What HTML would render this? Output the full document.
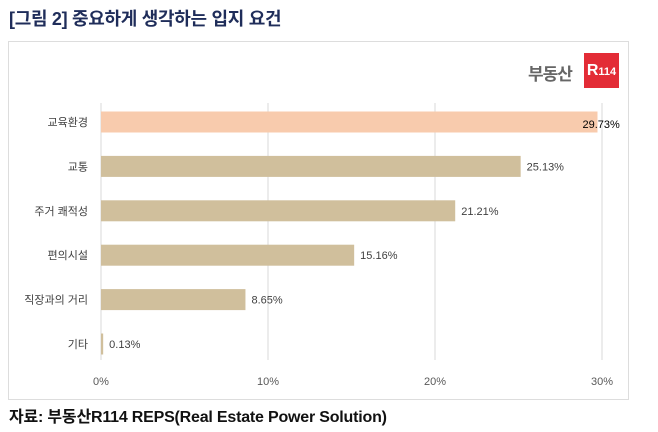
<!DOCTYPE html>
<html><head><meta charset="utf-8"><style>
body{margin:0;width:658px;height:432px;background:#fff;overflow:hidden;font-family:"Liberation Sans","Noto Sans CJK KR",sans-serif;position:relative}
.t{position:absolute;left:9px;top:5px;font-size:18px;font-weight:bold;color:#1f2d5a;letter-spacing:-0.3px}
.f{position:absolute;left:9px;top:403px;font-size:16px;font-weight:bold;color:#111;letter-spacing:-0.2px}
.box{position:absolute;left:8px;top:41px;width:621px;height:359px;border:1px solid #ddd;box-sizing:border-box}
</style></head><body>
<div class="t">[그림 2] 중요하게 생각하는 입지 요건</div>
<div class="box"></div>
<div style="position:absolute;left:528px;top:60px;font-size:17px;font-weight:bold;color:#666;letter-spacing:-1px">부동산</div>
<div style="position:absolute;left:584px;top:53px;width:35px;height:35px;background:#e32c36;color:#fff;font-weight:bold;font-size:16px;line-height:35px;text-align:center">R<span style="font-size:11px">114</span></div>
<svg id="c" width="658" height="432" style="position:absolute;left:0;top:0"></svg>
<div class="f">자료: 부동산R114 REPS(Real Estate Power Solution)</div>
<script>
const categories=["교육환경","교통","주거 쾌적성","편의시설","직장과의 거리","기타"];
const values=[29.73,25.13,21.21,15.16,8.65,0.13];
const ticks=[0,10,20,30];
const tickLabels=["0%","10%","20%","30%"];
const svg=document.getElementById('c');const NS='http://www.w3.org/2000/svg';
const x=v=>101+v*(602-101)/30;
const y=i=>122+i*44.4;
function el(t,a){const e=document.createElementNS(NS,t);for(const k in a)e.setAttribute(k,a[k]);svg.appendChild(e);return e;}
ticks.forEach((t,i)=>{
 const g=el('line',{x1:x(t),x2:x(t),y1:103,y2:360,stroke:'#d9d9d9','stroke-width':1});
 
 
 const l=el('text',{x:x(t),y:385,'text-anchor':'middle','font-size':11,fill:'#595959'});
 l.textContent=tickLabels[i];
 
 
});
categories.forEach((c,i)=>{
 const r=el('rect',{x:x(0),y:y(i)-10.5,width:Math.max(1.5,x(values[i])-x(0)),height:21,fill:i==0?'#f8cbad':'#d0bf9c'});
 
 
 const l=el('text',{x:88,y:y(i)+4,'text-anchor':'end','font-size':11,fill:'#404040'});
 l.textContent=c;
 
 
 const v=el('text',{x:i==0?x(values[i])-15:x(values[i])+6,y:y(i)+(i==0?6:4),'font-size':11,fill:i==0?'#000':'#404040'});
 v.textContent=values[i].toFixed(2)+'%';
 
 
});
</script>
</body></html>
